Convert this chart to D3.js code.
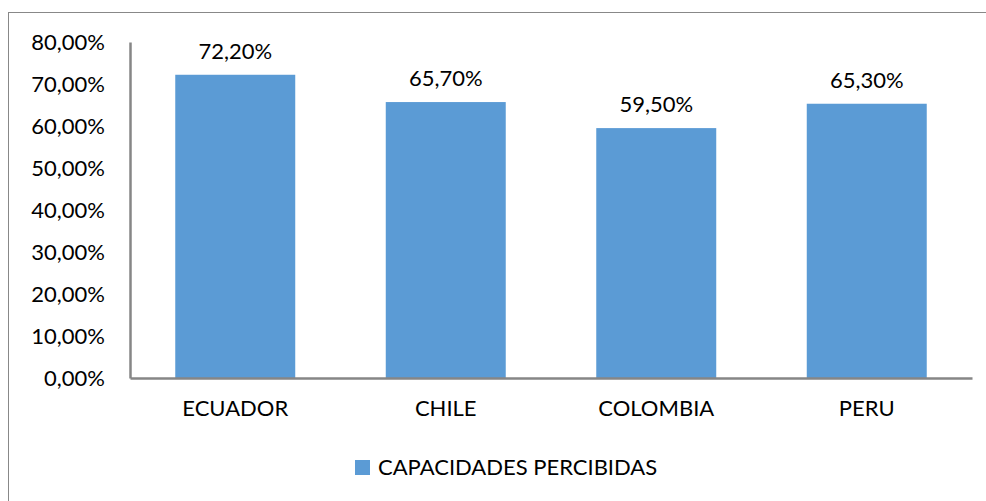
<!DOCTYPE html>
<html>
<head>
<meta charset="utf-8">
<script src="https://cdn.jsdelivr.net/npm/d3@7"></script>
<style>
  html, body { margin: 0; padding: 0; background: #fff; }
  svg { display: block; font-family: Lato, "Open Sans", sans-serif; }
</style>
</head>
<body>
<svg id="chart" width="986" height="501"></svg>
<script>
// Chart data
const categories = ["ECUADOR", "CHILE", "COLOMBIA", "PERU"];
const values = [72.2, 65.7, 59.5, 65.3];
const yTicks = [0, 10, 20, 30, 40, 50, 60, 70, 80];
const seriesName = "CAPACIDADES PERCIBIDAS";

const fmt = v => v.toFixed(2).replace(".", ",") + "%";

const svg = d3.select("#chart");
const W = 986, H = 501;
const plot = { left: 130, right: 972, top: 42, bottom: 378 };
const barColor = "#5B9BD5";
const axisColor = "#868686";
const fontSize = 22;

// Outer chart frame
svg.append("rect")
  .attr("x", 8.5).attr("y", 12.5)
  .attr("width", 990).attr("height", 500)
  .attr("fill", "none").attr("stroke", "#888").attr("stroke-width", 1);

const x = d3.scaleBand().domain(categories)
  .range([plot.left, plot.right]).paddingInner(0.43).paddingOuter(0.215);
const y = d3.scaleLinear().domain([0, 80]).range([plot.bottom, plot.top]);

// Bars
svg.append("g").selectAll("rect").data(categories).join("rect")
  .attr("x", d => x(d))
  .attr("y", (d, i) => y(values[i]))
  .attr("width", x.bandwidth())
  .attr("height", (d, i) => y(0) - y(values[i]))
  .attr("fill", barColor);

// Y axis
const yAxis = svg.append("g")
  .attr("transform", `translate(${plot.left},0)`)
  .call(d3.axisLeft(y).tickValues(yTicks).tickFormat(fmt).tickSize(0).tickPadding(25));
yAxis.select(".domain").attr("stroke", axisColor).attr("stroke-width", 2.5);
yAxis.selectAll("text").attr("font-size", fontSize).attr("fill", "#000")
  .attr("font-family", "Lato, sans-serif");

// X axis
const xAxis = svg.append("g")
  .attr("transform", `translate(0,${plot.bottom})`)
  .call(d3.axisBottom(x).tickSize(0).tickPadding(22));
xAxis.select(".domain").attr("stroke", axisColor).attr("stroke-width", 2.5);
xAxis.selectAll("text").attr("font-size", fontSize).attr("fill", "#000")
  .attr("font-family", "Lato, sans-serif");

// Value labels
svg.append("g").selectAll("text").data(categories).join("text")
  .attr("x", d => x(d) + x.bandwidth() / 2)
  .attr("y", (d, i) => y(values[i]) - 16)
  .attr("text-anchor", "middle")
  .attr("font-size", fontSize)
  .text((d, i) => fmt(values[i]));

// Legend
const lg = svg.append("g");
lg.append("rect").attr("x", 355).attr("y", 460).attr("width", 15).attr("height", 15).attr("fill", barColor);
lg.append("text").attr("x", 378).attr("y", 467.5).attr("dy", "0.35em")
  .attr("font-size", fontSize).text(seriesName);
</script>
</body>
</html>
